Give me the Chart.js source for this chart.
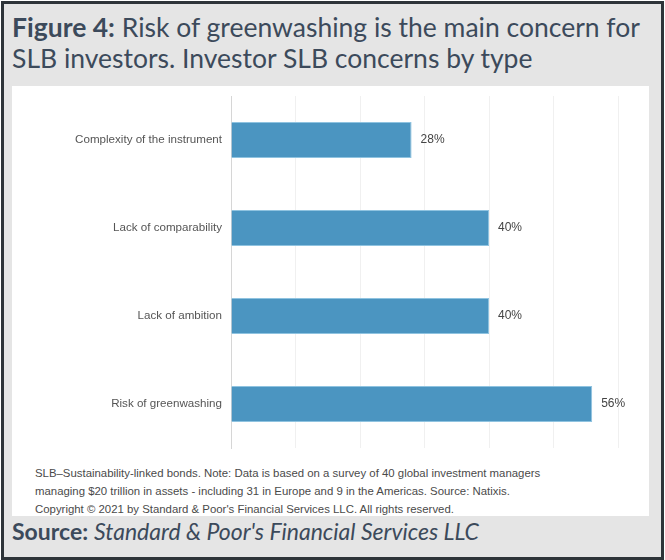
<!DOCTYPE html>
<html>
<head>
<meta charset="utf-8">
<script src="https://cdn.jsdelivr.net/npm/chart.js@4"></script>
<style>
  html, body { margin: 0; padding: 0; background: #fff; }
  .frame {
    position: absolute; left: 1px; top: 1px; width: 657px; height: 553px;
    border: 3px solid #2e3439; background: #e5e5e5;
  }
  .title {
    position: absolute; left: 8px; top: 8px; width: 642px;
    font-family: Lato, "Open Sans", sans-serif; font-size: 26.5px; line-height: 31px;
    color: #3c4a5b;
  }
  .panel {
    position: absolute; left: 8px; top: 82px; width: 637px; height: 430px; background: #fff;
  }
  .chartbox { position: absolute; left: 0; top: 0; width: 637px; height: 372px; }
  .note {
    position: absolute; left: 23px; top: 378px; width: 610px;
    font-family: "Liberation Sans", Arial, sans-serif; font-size: 11.4px; line-height: 18px;
    color: #4a4a4a;
  }
  .source {
    position: absolute; left: 8px; top: 513px;
    font-family: Lato, "Open Sans", sans-serif; font-size: 23px; line-height: 28px; color: #3c4a5b;
  }
</style>
</head>
<body>
<div class="frame">
  <div class="title"><b>Figure 4:</b> Risk of greenwashing is the main concern for SLB investors. Investor SLB concerns by type</div>
  <div class="panel">
    <div class="chartbox"><canvas id="chart"></canvas></div>
    <div class="note">SLB–Sustainability-linked bonds. Note: Data is based on a survey of 40 global investment managers<br>managing $20 trillion in assets - including 31 in Europe and 9 in the Americas. Source: Natixis.<br>Copyright © 2021 by Standard &amp; Poor's Financial Services LLC. All rights reserved.</div>
  </div>
  <div class="source"><b>Source:</b> <i>Standard &amp; Poor's Financial Services LLC</i></div>
</div>
<script>
const categories = ['Complexity of the instrument', 'Lack of comparability', 'Lack of ambition', 'Risk of greenwashing'];
const shares = [28, 40, 40, 56];
const axisMax = 60;

// draws the "NN%" text right after each bar
const valueLabels = {
  id: 'valueLabels',
  afterDatasetsDraw(chart) {
    const ctx = chart.ctx;
    const meta = chart.getDatasetMeta(0);
    ctx.save();
    ctx.font = '12px "Liberation Sans", Arial, sans-serif';
    ctx.fillStyle = '#444';
    ctx.textAlign = 'left';
    ctx.textBaseline = 'middle';
    meta.data.forEach((bar, i) => {
      ctx.fillText(shares[i] + '%', bar.x + 9, bar.y);
    });
    ctx.restore();
  }
};

new Chart(document.getElementById('chart').getContext('2d'), {
  type: 'bar',
  data: {
    labels: categories,
    datasets: [{
      data: shares,
      backgroundColor: '#4b95c1',
      borderColor: '#8fc3e0',
      borderWidth: 1,
      borderSkipped: 'left',
      barPercentage: 0.41,
      categoryPercentage: 1
    }]
  },
  options: {
    indexAxis: 'y',
    responsive: true,
    maintainAspectRatio: false,
    animation: false,
    layout: { padding: { top: 10, bottom: 10, left: 0, right: 31 } },
    scales: {
      x: {
        min: 0,
        max: axisMax,
        ticks: { display: false, stepSize: 10 },
        grid: { color: '#f0f0f0', drawTicks: false },
        border: { display: false }
      },
      y: {
        grid: { display: false },
        border: { color: '#d6d6d6' },
        ticks: {
          color: '#555',
          padding: 1,
          font: { family: '"Liberation Sans", Arial, sans-serif', size: 11.6 }
        },
        afterFit(scale) { scale.width = 219; }
      }
    },
    plugins: {
      legend: { display: false },
      tooltip: { enabled: false }
    }
  },
  plugins: [valueLabels]
});
</script>
</body>
</html>
